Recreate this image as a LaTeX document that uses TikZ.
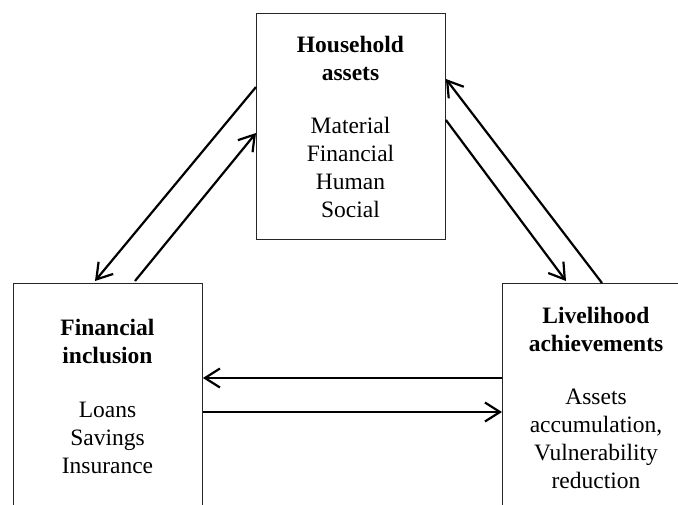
\documentclass[tikz,border=0pt]{standalone}
\usepackage{fontspec}
\setmainfont{Liberation Serif}
\usetikzlibrary{arrows.meta}
\begin{document}
\begin{tikzpicture}[x=1pt,y=-1pt,
  box/.style={draw=black!85, line width=0.9pt, rectangle, inner sep=0pt, anchor=north west},
  txt/.style={align=center, inner sep=0pt, anchor=base, font=\fontsize{23.5pt}{28pt}\selectfont},
  arr/.style={line width=2.2pt, -{Straight Barb[length=15pt,width=19pt]}}]
\useasboundingbox (0,0) rectangle (678,504);
\clip (0,0) rectangle (678,504);
\node[box, minimum width=189pt, minimum height=226pt] (top) at (256,13) {};
\node[box, minimum width=189pt, minimum height=240pt] (left) at (13,283) {};
\node[box, minimum width=189pt, minimum height=240pt] (right) at (502,283) {};
\node[txt] (toptext) at (350.5,217) {\textbf{Household}\\\textbf{assets}\\[25pt]Material\\Financial\\Human\\Social};
\node[txt] (lefttext) at (107.5,473) {\textbf{Financial}\\\textbf{inclusion}\\[26pt]Loans\\Savings\\Insurance};
\node[txt] (righttext) at (596,488) {\textbf{Livelihood}\\\textbf{achievements}\\[25pt]Assets\\accumulation,\\Vulnerability\\reduction};
\draw[arr] ([yshift=-74pt]top.north west) -- ([xshift=82pt,yshift=2pt]left.north west);
\draw[arr] ([xshift=122pt,yshift=2pt]left.north west) -- ([yshift=-120pt]top.north west);
\draw[arr] ([xshift=100pt]right.north west) -- ([yshift=-66pt]top.north east);
\draw[arr] ([yshift=-107pt]top.north east) -- ([xshift=64pt,yshift=2pt]right.north west);
\draw[arr] ([yshift=-95pt]right.north west) -- ([yshift=-95pt]left.north east);
\draw[arr] ([yshift=-129pt]left.north east) -- ([yshift=-129pt]right.north west);
\end{tikzpicture}
\end{document}
